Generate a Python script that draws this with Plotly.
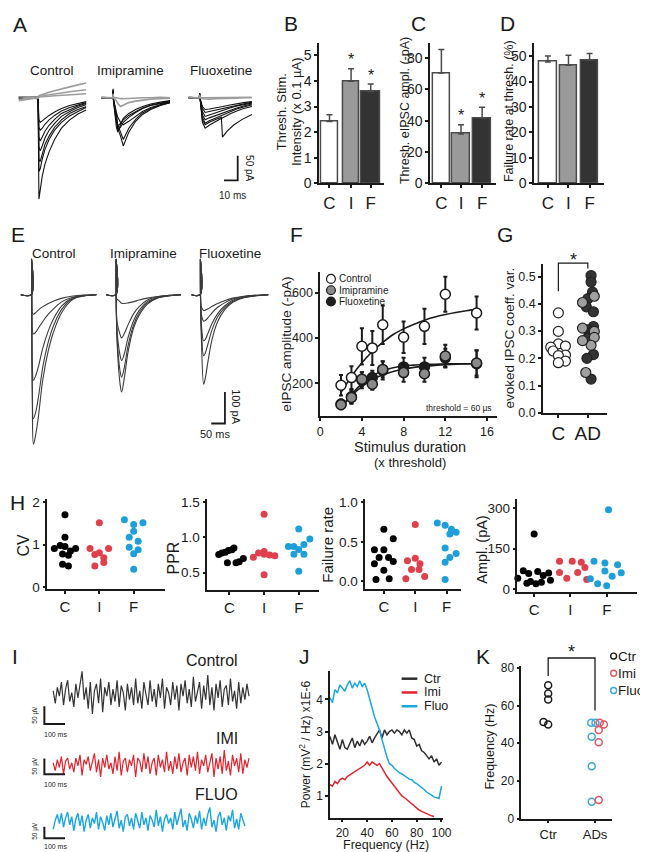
import plotly.graph_objects as go

W, H = 648, 852
FONT = "Liberation Sans, Arial, Helvetica, sans-serif"
INK = "#1a1a1a"
GREY_TR = "#9c9c9c"
RED = "#e3222b"
BLUE = "#1aa6df"
RED_DOT = "#e0404c"
BLUE_DOT = "#1f9fd9"

# ======================= DATA =======================
# ---- A: threshold-evoked sweeps (time ms, current pA) ----
A_CTRL_T = [0, 14, 14.6, 15.5, 17, 19, 22, 26, 31, 37, 43, 49]
A_CTRL_SWEEPS = [
    [2, 0, -206, -190, -160, -135, -110, -85, -62, -45, -33, -25],
    [0, -2, -150, -145, -125, -105, -85, -66, -50, -37, -28, -20],
    [-3, 0, -125, -130, -115, -95, -78, -60, -45, -32, -24, -18],
    [1, -1, -100, -108, -98, -82, -66, -52, -38, -28, -20, -14],
    [0, 2, -80, -88, -80, -68, -56, -44, -32, -24, -17, -12],
    [-2, 0, -60, -66, -62, -54, -45, -36, -27, -20, -15, -10],
    [1, 0, -45, -50, -47, -42, -36, -29, -22, -16, -12, -8],
]
A_CTRL_FAILS = [
    [-4, 2, 4, 5, 6, 8, 11, 14, 18, 22, 26, 30],
    [-6, 0, 2, 3, 3, 5, 6, 8, 10, 12, 14, 16],
    [2, -1, 1, 2, 2, 3, 3, 4, 5, 6, 7, 8],
]
A_IMI_T = [0, 8.4, 8.6, 8.8, 11, 12, 14, 16, 20, 25, 30, 36, 43, 50]
A_IMI_SWEEPS = [
    [0, 0, 18, -5, -60, -70, -55, -42, -32, -24, -18, -13, -9, -6],
    [0, 1, 15, -3, -40, -62, -78, -98, -70, -48, -34, -24, -16, -10],
    [1, 0, 12, -4, -50, -66, -60, -50, -40, -30, -22, -16, -12, -8],
    [0, -1, 16, -2, -35, -55, -70, -85, -62, -44, -31, -22, -15, -10],
    [-1, 0, 14, -3, -45, -58, -52, -45, -36, -28, -21, -15, -11, -7],
    [0, 1, 10, -2, -30, -40, -50, -55, -48, -38, -28, -20, -14, -9],
]
A_IMI_FAILS = [
    [0, 0, 8, 0, -6, -12, -18, -15, -10, -7, -5, -3, -2, -1],
    [1, 0, 5, 1, 0, -1, -2, -2, -1, -1, 0, 0, 1, 0],
]
A_FLUO_T = [0, 7.8, 8, 8.3, 10, 12, 15, 20, 25, 30, 35, 40, 46]
A_FLUO_SWEEPS = [
    [0, 0, 9, -2, -50, -62, -56, -48, -40, -33, -27, -22, -18],
    [1, 0, 8, -3, -40, -52, -47, -41, -34, -28, -23, -19, -15],
    [0, 1, 9, -2, -35, -45, -41, -36, -30, -25, -21, -17, -13],
    [-1, 0, 7, -1, -28, -38, -35, -30, -26, -21, -17, -14, -11],
    [0, 0, 8, -2, -22, -30, -28, -25, -21, -18, -15, -12, -9],
    [1, 0, 8, -1, -18, -24, -23, -21, -18, -15, -12, -10, -8],
]
A_FLUO_LATE_T = [0, 7.8, 8, 8.3, 10, 12, 15, 20, 23.8, 24.6, 28, 33, 39, 46]
A_FLUO_LATE = [0, 0, 9, -1, -45, -55, -50, -44, -40, -80, -68, -55, -44, -34]
A_FLUO_FAILS = [
    [0, 0, 6, 0, -2, -3, -3, -2, -2, -1, -1, 0, 0],
    [1, 0, 4, 1, 0, 0, 1, 0, 0, 1, 0, 0, 1],
]
A_SCALE_MS, A_SCALE_PA = 10, 50

# ---- B, C, D: bar graphs ----
GROUPS = ["C", "I", "F"]
B_MEAN = [2.42, 3.99, 3.58]
B_SEM = [0.26, 0.49, 0.30]
C_MEAN = [70.5, 31.6, 41.7]
C_SEM = [15.0, 5.9, 6.9]
D_MEAN = [47.7, 46.4, 48.3]
D_SEM = [2.3, 3.9, 2.7]
B_SIG = [False, True, True]
C_SIG = [False, True, True]

# ---- E: input-output sweeps (ms, pA) ----
E_CTRL_T = [0, 38, 39, 40, 42, 46, 55, 65, 80, 100, 120, 150, 190, 230, 275]
E_CTRL_SWEEPS = [
    [0, 0, 112, -100, -350, -475, -440, -380, -270, -178, -116, -55, -15, -4, 0],
    [0, 0, 112, -90, -300, -394, -370, -320, -230, -150, -96, -45, -12, -3, 0],
    [0, 0, 112, -80, -230, -272, -255, -225, -170, -115, -75, -35, -10, -3, 0],
    [0, 0, 112, -60, -115, -125, -118, -105, -85, -62, -44, -22, -8, -2, 0],
    [0, 0, 112, -40, -58, -62, -56, -48, -38, -28, -20, -11, -4, -1, 0],
]
E_IMI_T = [0, 35, 36, 37, 40, 50, 56, 65, 80, 100, 120, 150, 190, 230, 272]
E_IMI_SWEEPS = [
    [0, 0, 112, -60, -160, -280, -309, -270, -180, -105, -65, -30, -10, -3, 0],
    [0, 0, 112, -55, -140, -240, -262, -235, -160, -95, -58, -26, -9, -3, 0],
    [0, 0, 112, -50, -120, -190, -209, -190, -135, -82, -50, -22, -8, -2, 0],
    [0, 0, 112, -45, -90, -125, -137, -125, -95, -60, -38, -17, -6, -2, 0],
    [0, 0, 112, -20, -15, -22, -27, -28, -26, -22, -17, -11, -6, -3, 0],
]
E_FLUO_T = [0, 31, 32, 33, 36, 44, 50, 60, 75, 95, 120, 150, 190, 230, 279]
E_FLUO_SWEEPS = [
    [0, 0, 112, -50, -150, -284, -265, -210, -140, -85, -48, -24, -10, -4, 0],
    [0, 0, 112, -45, -120, -194, -185, -155, -110, -70, -42, -21, -9, -3, 0],
    [0, 0, 112, -40, -100, -147, -142, -122, -90, -60, -36, -18, -8, -3, 0],
    [0, 0, 112, -30, -65, -84, -82, -73, -57, -40, -26, -14, -6, -2, 0],
    [0, 0, 112, -20, -40, -50, -49, -45, -37, -28, -19, -11, -5, -2, 0],
]
E_SCALE_MS, E_SCALE_PA = 50, 100

# ---- F: eIPSC amplitude vs stimulus duration ----
F_X = [2, 3, 4, 5, 6, 8, 10, 12, 15]
F_CTRL = [191, 225, 363, 356, 458, 403, 451, 593, 510]
F_CTRL_SEM = [45, 50, 80, 75, 85, 70, 78, 77, 73]
F_IMI = [105, 137, 218, 196, 261, 247, 242, 320, 289]
F_IMI_SEM = [20, 25, 30, 25, 35, 40, 35, 50, 55]
F_FLUO = [108, 140, 213, 225, 257, 272, 272, 312, 286]
F_FLUO_SEM = [20, 30, 35, 30, 40, 40, 40, 40, 60]
FIT_X = [2, 3, 4, 5, 6, 7, 8, 9, 10, 11, 12, 13, 14, 15]
FIT_CTRL = [160, 230, 290, 340, 380, 415, 440, 460, 478, 492, 503, 512, 520, 526]
FIT_IMI = [95, 145, 185, 215, 237, 252, 262, 270, 275, 279, 282, 284, 285, 286]
FIT_FLUO = [90, 150, 198, 232, 255, 268, 276, 280, 283, 284, 285, 286, 286, 286]

# ---- G: evoked IPSC coefficient of variation ----
G_CTRL = [0.367, 0.299, 0.253, 0.245, 0.241, 0.227, 0.212, 0.210, 0.190, 0.184]
G_FLUO = [0.504, 0.48, 0.443, 0.419, 0.389, 0.371, 0.317, 0.305, 0.299, 0.275, 0.214, 0.200, 0.124]
G_IMI = [0.428, 0.405, 0.311, 0.299, 0.277, 0.248, 0.148, 0.265]

# ---- H: per-cell scatter ----
H_CV = {"C": [1.71, 1.18, 0.98, 0.96, 0.91, 0.91, 0.85, 0.78, 0.75, 0.54, 0.50],
        "I": [1.52, 0.91, 0.91, 0.81, 0.77, 0.69, 0.58, 0.50],
        "F": [1.59, 1.52, 1.48, 1.32, 1.18, 1.08, 0.94, 0.88, 0.79, 0.42]}
H_PPR = {"C": [0.757, 0.78, 0.79, 0.813, 0.827, 0.85, 0.64, 0.64, 0.654, 0.70],
         "I": [1.33, 0.80, 0.78, 0.76, 0.75, 0.74, 0.72, 0.47],
         "F": [1.12, 0.98, 0.90, 0.87, 0.87, 0.83, 0.76, 0.76, 0.52]}
H_FAIL = {"C": [0.66, 0.54, 0.40, 0.40, 0.30, 0.30, 0.25, 0.22, 0.14, 0.03, 0.02],
          "I": [0.72, 0.29, 0.26, 0.22, 0.15, 0.15, 0.06, 0.03],
          "F": [0.74, 0.71, 0.66, 0.62, 0.60, 0.42, 0.35, 0.30, 0.24, 0.02]}
H_AMPL = {"C": [205, 68, 65, 60, 58, 50, 40, 33, 28, 25, 22, 20],
          "I": [103, 103, 100, 80, 62, 62, 40, 36],
          "F": [295, 103, 97, 90, 67, 61, 48, 38, 20, 12]}

# ---- I: field potential traces (µV), sampled every 10 ms ----
I_CTRL = [10, -25, 20, -5, 35, -30, 15, 40, -20, 5,
          -35, 30, -10, 25, 65, -15, 20, -40, 35, -55,
          10, 30, -25, 45, -50, 20, -5, 35, -30, 15,
          -20, 40, -35, 25, 5, -45, 30, -15, 20, -30,
          45, -25, 10, -40, 35, 0, -30, 40, -20, 15,
          -35, 30, -10, 45, -40, 20, 5, -30, 35, -15,
          25, -45, 30, -5, 40, -25, 15, -35, 50, -20,
          10, 35, -40, 25, -15, 55, -30, 20, -45, 30,
          -10, 40, -35, 15, 25, -30, 45, -20, 10, -40,
          35, -25, 20, -15, 30, -5]
I_IMI = [5, -20, 15, -10, 25, -30, 10, 20, -15, 5,
         -25, 20, -5, 30, -35, 15, 0, 25, -20, 10,
         35, -25, 15, -40, 20, -10, 30, -15, 5, -30,
         25, -20, 40, -35, 10, 20, -25, 15, -5, 30,
         -40, 20, 10, -25, 35, -15, 25, -30, 5, 20,
         -35, 30, -10, 15, -25, 40, -20, 10, -30, 25,
         -15, 35, -25, 5, 20, -35, 30, -10, 25, -20,
         40, -30, 15, -5, 30, -25, 10, 35, -40, 20,
         -15, 25, -30, 45, -20, 10, -35, 30, -5, 20,
         -25, 35, -30, 15, -10, 20]
I_FLUO = [-30, 10, 35, -5, 40, -20, 20, 45, -10, 25,
          -35, 15, 40, -15, 30, -40, 10, 35, -25, 20,
          -5, 45, -30, 25, 0, -35, 30, -10, 40, -20,
          15, 50, -25, 10, -40, 25, 35, -15, 20, -30,
          40, 5, -25, 45, -10, 20, -35, 30, 10, -20,
          55, -15, 25, -40, 15, 35, -5, 20, -30, 45,
          -10, 25, 60, -20, 10, -35, 40, 15, -25, 30,
          -5, 50, -30, 20, -15, 35, 65, -20, 10, -40,
          25, 45, -10, 20, -35, 30, 5, 55, -25, 15,
          -30, 40, 10, -15]
I_DT_MS = 10
I_SCALE_MS, I_SCALE_UV = 100, 50

# ---- J: power spectra (x1E-6 mV^2/Hz), 2-Hz bins from 10 Hz ----
J_F0, J_DF = 10, 2
J_CTR = [2.85, 2.6, 2.9, 2.7, 2.45, 2.75, 2.5, 2.45, 2.65, 2.8,
         2.5, 2.7, 2.55, 2.75, 2.6, 2.7, 2.85, 2.65, 2.8, 2.95,
         3.05, 2.8, 3.05, 2.9, 3.0, 3.05, 2.95, 3.05, 3.0, 2.9,
         3.05, 2.95, 3.05, 2.8, 2.75, 2.55, 2.6, 2.4, 2.35, 2.25,
         2.15, 2.25, 2.05, 2.15, 1.95, 2.05]
J_IMI = [1.35, 1.3, 1.45, 1.38, 1.5, 1.55, 1.5, 1.6, 1.65, 1.7,
         1.75, 1.8, 1.85, 1.9, 1.95, 2.05, 1.95, 2.05, 2.0, 1.95,
         2.0, 1.85, 1.75, 1.6, 1.5, 1.4, 1.3, 1.2, 1.1, 1.0,
         0.95, 0.88, 0.82, 0.76, 0.7, 0.62, 0.56, 0.52, 0.48, 0.44,
         0.4, 0.38, 0.36]
J_FLUO = [4.05, 3.9, 4.3, 4.2, 4.45, 4.35, 4.25, 4.45, 4.58, 4.35,
          4.5, 4.4, 4.58, 4.4, 4.5, 4.3, 4.0, 3.7, 3.45, 3.25,
          3.05, 2.75, 2.45, 2.2, 2.0, 1.95, 1.85, 1.78, 1.72, 1.68,
          1.62, 1.58, 1.52, 1.5, 1.42, 1.38, 1.32, 1.27, 1.2, 1.12,
          1.08, 1.02, 0.97, 0.95, 0.92, 1.3]

# ---- K: peak frequency ----
K_CTR = [70.8, 66.4, 63.2, 51.2, 49.9]
K_FLUO = [50.8, 50.8, 43.4, 27.7, 8.9]
K_IMI = [50.8, 49.9, 47.0, 40.5, 9.8]

# ======================= LAYOUT (positions / styles) =======================
JIT = {
    "G_CTRL": [0, 0, 0, 0.24, -0.26, -0.18, 0.24, 0, 0.24, 0],
    "G_FLUO": [0.11, 0.11, 0.16, 0.0, -0.05, 0.19, 0.19, 0.0, 0.16, 0.0, 0.19, -0.03, 0.11],
    "G_IMI": [0.22, -0.18, -0.18, 0.22, 0.22, 0.11, -0.07, -0.18],
    "CV": {"C": [0, 0, -0.14, 0, -0.31, 0.31, 0.16, -0.07, 0.1, -0.07, 0.1],
           "I": [0, -0.27, 0.27, 0, -0.13, 0.13, 0.13, -0.13],
           "F": [-0.27, 0.27, 0, 0, -0.13, 0.13, -0.13, 0.13, 0, 0]},
    "PPR": {"C": [-0.31, -0.22, -0.12, -0.03, 0.07, 0.13, -0.06, 0.19, 0.28, 0.4],
            "I": [0, 0, -0.16, 0, 0.16, 0.31, -0.31, 0],
            "F": [0, 0.32, 0.15, -0.3, -0.14, 0, -0.14, 0.15, 0]},
    "FAIL": {"C": [0, 0.3, -0.3, 0, -0.15, 0.15, 0.3, -0.3, 0, 0.17, -0.25],
             "I": [0, 0, -0.25, 0.15, -0.12, 0.12, 0.3, -0.3],
             "F": [-0.3, -0.05, 0.15, 0.3, 0.1, -0.05, 0.3, 0.1, -0.05, -0.05]},
    "AMPL": {"C": [0, -0.3, 0.1, 0.4, -0.15, 0.25, -0.45, 0.45, -0.1, 0.2, -0.2, 0.05],
             "I": [-0.3, 0.05, 0.3, 0.4, -0.3, 0.2, -0.1, 0.45],
             "F": [0.05, -0.35, -0.05, 0.3, -0.05, 0.4, 0.15, -0.45, -0.25, 0.0]},
    "K_CTR": [0, 0, 0, -0.1, 0],
    "K_FLUO": [-0.08, 0.01, -0.07, -0.07, -0.07],
    "K_IMI": [0.1, 0.19, 0.08, 0.08, 0.08],
}

fig = go.Figure()
LAY, ANN, SHP, AX = {}, [], [], {}
_n = [0]


def axes(key, xpx, ypx, xr, yr, visible=True, xo=None, yo=None):
    _n[0] += 1
    s = "" if _n[0] == 1 else str(_n[0])
    common = dict(showgrid=False, zeroline=False, fixedrange=True)
    if visible:
        common.update(showline=True, linecolor=INK, linewidth=1.5, ticks="outside",
                      ticklen=3, tickwidth=1.5, tickcolor=INK,
                      tickfont=dict(family=FONT, size=13, color=INK))
    else:
        common.update(visible=False)
    xa = dict(common)
    xa.update(domain=[xpx[0] / W, xpx[1] / W], range=list(xr), anchor="y" + s)
    ya = dict(common)
    ya.update(domain=[1 - ypx[1] / H, 1 - ypx[0] / H], range=list(yr), anchor="x" + s)
    if xo:
        xa.update(xo)
    if yo:
        ya.update(yo)
    LAY["xaxis" + s] = xa
    LAY["yaxis" + s] = ya
    AX[key] = dict(x="x" + s, y="y" + s, xpx=xpx, ypx=ypx, xr=xr, yr=yr)
    return AX[key]


def to_px(ax, x, y):
    px = ax["xpx"][0] + (x - ax["xr"][0]) / (ax["xr"][1] - ax["xr"][0]) * (ax["xpx"][1] - ax["xpx"][0])
    py = ax["ypx"][1] - (y - ax["yr"][0]) / (ax["yr"][1] - ax["yr"][0]) * (ax["ypx"][1] - ax["ypx"][0])
    return px, py


def txt(px, py, s, size, angle=0, xanchor="center", yanchor="middle", color=INK):
    ANN.append(dict(x=px / W, y=1 - py / H, xref="paper", yref="paper", text=s,
                    showarrow=False, textangle=angle, xanchor=xanchor, yanchor=yanchor,
                    font=dict(family=FONT, size=size, color=color)))


def line(ax, x, y, color, width=1.0, x0=None, dx=None, shape="linear"):
    kw = dict(y=y, xaxis=ax["x"], yaxis=ax["y"], mode="lines",
              line=dict(color=color, width=width, shape=shape),
              hoverinfo="skip", showlegend=False)
    if x is None:
        kw.update(x0=x0, dx=dx)
    else:
        kw.update(x=x)
    fig.add_trace(go.Scatter(**kw))


def ppath(pts, color=INK, width=1.3):
    d = "M " + " L ".join(f"{px / W:.5f},{1 - py / H:.5f}" for px, py in pts)
    SHP.append(dict(type="path", xref="paper", yref="paper", path=d,
                    line=dict(color=color, width=width)))


def pcircle(px, py, r, fill, edge, width=1.2):
    SHP.append(dict(type="circle", xref="paper", yref="paper",
                    x0=(px - r) / W, x1=(px + r) / W, y0=1 - (py + r) / H, y1=1 - (py - r) / H,
                    fillcolor=fill, line=dict(color=edge, width=width)))


def scalebar(ax, corner_x, corner_y, lx, ly, width=1.8):
    line(ax, [corner_x - lx, corner_x, corner_x], [corner_y, corner_y, corner_y + ly], INK, width)


# ---------------- Panel A ----------------
A_YR = (-218, 52)
aA1 = axes("A1", (3, 83), (60, 195), (-3.57, 53.57), A_YR, visible=False)
aA2 = axes("A2", (87, 167), (60, 195), (-3.57, 53.57), A_YR, visible=False)
aA3 = axes("A3", (176, 256), (60, 195), (-3.57, 53.57), A_YR, visible=False)
for sw in A_CTRL_SWEEPS:
    line(aA1, A_CTRL_T, sw, "#111111", 1.1)
for sw in A_CTRL_FAILS:
    line(aA1, A_CTRL_T, sw, GREY_TR, 1.6)
for sw in A_IMI_SWEEPS:
    line(aA2, A_IMI_T, sw, "#111111", 1.1)
for sw in A_IMI_FAILS:
    line(aA2, A_IMI_T, sw, GREY_TR, 1.6)
for sw in A_FLUO_SWEEPS:
    line(aA3, A_FLUO_T, sw, "#111111", 1.1)
line(aA3, A_FLUO_LATE_T, A_FLUO_LATE, "#111111", 1.1)
for sw in A_FLUO_FAILS:
    line(aA3, A_FLUO_T, sw, GREY_TR, 1.6)
scalebar(aA3, 35.7, -168, A_SCALE_MS, A_SCALE_PA)
txt(243, 157, f"{A_SCALE_PA} pA", 10, angle=90)
txt(226, 185, f"{A_SCALE_MS} ms", 10)
txt(42, 58, "Control", 13.5)
txt(122, 58, "Imipramine", 13.5)
txt(214, 58, "Fluoxetine", 13.5)

# ---------------- Panels B, C, D ----------------
BAR_FILL = ["#ffffff", "#9a9a9a", "#333333"]


def bar_panel(key, xpx, ypx, yr, centers, widths, mean, sem, sig, ytv, ytt):
    ax = axes(key, xpx, ypx, (xpx[0], xpx[1]), yr,
              xo=dict(tickvals=centers, ticktext=GROUPS,
                      tickfont=dict(family=FONT, size=17, color=INK)),
              yo=dict(tickvals=ytv, ticktext=ytt, tickfont=dict(family=FONT, size=14, color=INK)))
    fig.add_trace(go.Bar(x=centers, y=mean, width=widths, xaxis=ax["x"], yaxis=ax["y"],
                         marker=dict(color=BAR_FILL, line=dict(color="#4a4a4a", width=1.5)),
                         error_y=dict(type="data", symmetric=False, array=sem, arrayminus=[0] * 3,
                                      color="#4a4a4a", thickness=1.5, width=3),
                         hoverinfo="skip", showlegend=False))
    if sig:
        for c, m, e, s in zip(centers, mean, sem, sig):
            if s:
                px, py = to_px(ax, c, m + e)
                txt(px, py - 9, "*", 16)
    return ax


bar_panel("B", (314, 380), (30, 173), (0, 5.5), [324.5, 346.5, 366.5], [17, 17, 19],
          B_MEAN, B_SEM, B_SIG, [0, 1, 2, 3, 4, 5], ["0", "1", "2", "3", "4", "5"])
bar_panel("C", (427, 494), (30, 173), (0, 90), [438.5, 458.5, 480], [17, 19, 18],
          C_MEAN, C_SEM, C_SIG, [0, 20, 40, 60, 80], ["0", "20", "40", "60", "80"])
bar_panel("D", (533, 604), (30, 173), (0, 55.3), [547, 568, 589.5], [18, 18, 17],
          D_MEAN, D_SEM, None, [0, 10, 20, 30, 40, 50],
          ["0", "10", "20", "30", "40", "50"])
txt(276, 100, "Thresh. Stim.", 13, angle=-90)
txt(291, 100, "Intensity (x 0.1 µA)", 13, angle=-90)
txt(402, 99, "Thresh. eIPSC ampl. (-pA)", 12.5, angle=-90)
txt(508, 100, "Failure rate at thresh. (%)", 12.5, angle=-90)

# ---------------- Panel E ----------------
E_XR, E_YR = (-21.4, 300), (-497, 144)
aE1 = axes("E1", (4, 94), (240, 445), E_XR, E_YR, visible=False)
aE2 = axes("E2", (91, 181), (240, 445), E_XR, E_YR, visible=False)
aE3 = axes("E3", (178, 268), (240, 445), E_XR, E_YR, visible=False)
for sw in E_CTRL_SWEEPS:
    line(aE1, E_CTRL_T, sw, "#3a3a3a", 1.1, shape="spline")
for sw in E_IMI_SWEEPS:
    line(aE2, E_IMI_T, sw, "#3a3a3a", 1.1, shape="spline")
for sw in E_FLUO_SWEEPS:
    line(aE3, E_FLUO_T, sw, "#3a3a3a", 1.1, shape="spline")
scalebar(aE3, 121.4, -409, E_SCALE_MS, E_SCALE_PA)
txt(229, 400, f"{E_SCALE_PA} pA", 11, angle=90)
txt(208, 428, f"{E_SCALE_MS} ms", 11)
txt(44, 244, "Control", 13.5)
txt(135, 244, "Imipramine", 13.5)
txt(223, 244, "Fluoxetine", 13.5)

# ---------------- Panel F ----------------
aF = axes("F", (315, 495), (263, 409), (0, 16.94), (56.5, 691),
          xo=dict(tickvals=[0, 4, 8, 12, 16], tickfont=dict(family=FONT, size=12.5, color=INK)),
          yo=dict(tickvals=[200, 400, 600], tickfont=dict(family=FONT, size=12.5, color=INK)))
for fit in (FIT_CTRL, FIT_IMI, FIT_FLUO):
    line(aF, FIT_X, fit, INK, 1.6, shape="spline")
for vals, sem, fill in ((F_FLUO, F_FLUO_SEM, "#1e1e1e"), (F_IMI, F_IMI_SEM, "#8a8a8a"),
                        (F_CTRL, F_CTRL_SEM, "#ffffff")):
    fig.add_trace(go.Scatter(x=F_X, y=vals, xaxis=aF["x"], yaxis=aF["y"], mode="markers",
                             marker=dict(size=10, color=fill, line=dict(color=INK, width=1.5)),
                             error_y=dict(type="data", array=sem, color=INK, thickness=2, width=2),
                             hoverinfo="skip", showlegend=False))
for i, (lab, fill) in enumerate((("Control", "#ffffff"), ("Imipramine", "#8a8a8a"),
                                 ("Fluoxetine", "#1e1e1e"))):
    yy = 270 + 11.5 * i
    pcircle(326, yy, 4.5, fill, INK)
    txt(332, yy, lab, 10, xanchor="left")
txt(492, 401, "threshold = 60 µs", 8.5, xanchor="right")
txt(281, 336, "eIPSC amplitude (-pA)", 13.5, angle=-90)
txt(407, 441, "Stimulus duration", 14.5)
txt(407, 456, "(x threshold)", 13)

# ---------------- Panel G ----------------
aG = axes("G", (542, 607), (255, 406), (-0.523, 1.643), (0, 0.546),
          xo=dict(tickvals=[0, 1], ticktext=["C", "AD"],
                  tickfont=dict(family=FONT, size=19, color=INK)),
          yo=dict(tickvals=[0, 0.1, 0.2, 0.3, 0.4, 0.5], tickformat=".1f",
                  tickfont=dict(family=FONT, size=12.5, color=INK)))
for vals, jit, cat, fill in ((G_CTRL, JIT["G_CTRL"], 0, "#ffffff"), (G_FLUO, JIT["G_FLUO"], 1, "#333333"),
                             (G_IMI, JIT["G_IMI"], 1, "#a0a0a0")):
    fig.add_trace(go.Scatter(x=[cat + j for j in jit], y=vals, xaxis=aG["x"], yaxis=aG["y"],
                             mode="markers", cliponaxis=False,
                             marker=dict(size=10, color=fill, line=dict(color="#222222", width=1.2)),
                             hoverinfo="skip", showlegend=False))
g0 = to_px(aG, 0, 0.446)
g1 = to_px(aG, 1, 0.53)
gtop = to_px(aG, 0, 0.546)[1] - 1
ppath([g0, (g0[0], gtop), (g1[0], gtop), g1], INK, 1.2)
txt((g0[0] + g1[0]) / 2, gtop - 3, "*", 18)
txt(508, 330, "evoked IPSC coeff. var.", 13.5, angle=-90)

# ---------------- Panel H ----------------
H_COLORS = {"C": "#000000", "I": RED_DOT, "F": BLUE_DOT}


def h_panel(key, xpx, ypx, xr, yr, data, jit, ytv, ytt):
    ax = axes(key, xpx, ypx, xr, yr,
              xo=dict(tickvals=[0, 1, 2], ticktext=GROUPS,
                      tickfont=dict(family=FONT, size=15, color=INK)),
              yo=dict(tickvals=ytv, ticktext=ytt, tickfont=dict(family=FONT, size=13.5, color=INK)))
    for i, g in enumerate(GROUPS):
        fig.add_trace(go.Scatter(x=[i + j for j in jit[g]], y=data[g], xaxis=ax["x"], yaxis=ax["y"],
                                 mode="markers", cliponaxis=False,
                                 marker=dict(size=7, color=H_COLORS[g]),
                                 hoverinfo="skip", showlegend=False))
    return ax


h_panel("H1", (37, 157), (494, 585), (-0.514, 2.914), (-0.047, 2.07), H_CV, JIT["CV"],
        [0, 1, 2], ["0", "1", "2"])
h_panel("H2", (200, 314), (494, 586), (-0.64, 2.59), (0.251, 1.542), H_PPR, JIT["PPR"],
        [0.5, 1.0, 1.5], ["0.5", "1.0", "1.5"])
h_panel("H3", (361, 458), (494, 585), (-0.59, 2.44), (-0.1, 1.0375), H_FAIL, JIT["FAIL"],
        [0, 0.5, 1.0], ["0.0", "0.5", "1.0"])
h_panel("H4", (516, 638), (494, 588), (-0.46, 2.84), (-11, 333), H_AMPL, JIT["AMPL"],
        [0, 150, 300], ["0", "150", "300"])
txt(13, 540, "CV", 16, angle=-90)
txt(166, 553, "PPR", 16, angle=-90)
txt(323, 540, "Failure rate", 15, angle=-90)
txt(480, 545, "Ampl. (pA)", 14.5, angle=-90)

# ---------------- Panel I ----------------
I_XR = (-61.9, 985.7)
aI1 = axes("I1", (30, 250), (662, 728), I_XR, (-100, 83.3), visible=False)
aI2 = axes("I2", (30, 250), (742, 782), I_XR, (-59.4, 65.6), visible=False)
aI3 = axes("I3", (30, 250), (798, 846), I_XR, (-102.6, 102.6), visible=False)
line(aI1, None, I_CTRL, "#333333", 1.2, x0=0, dx=I_DT_MS)
line(aI2, None, I_IMI, RED, 1.2, x0=0, dx=I_DT_MS)
line(aI3, None, I_FLUO, BLUE, 1.4, x0=0, dx=I_DT_MS)
for ax, cy in ((aI1, -83.3), (aI2, -31.25), (aI3, -68.4)):
    line(ax, [-42.9, -42.9, -42.9 + I_SCALE_MS], [cy + I_SCALE_UV, cy, cy], INK, 2)
for py_uv, py_ms in ((713, 733), (765, 783), (831, 846)):
    txt(25, py_uv, f"{I_SCALE_UV} µV", 6.5, angle=-90)
    txt(45, py_ms, f"{I_SCALE_MS} ms", 7)
txt(233, 658, "Control", 16, xanchor="right")
txt(233, 737, "IMI", 16, xanchor="right")
txt(233, 794, "FLUO", 16, xanchor="right")

# ---------------- Panel J ----------------
aJ = axes("J", (325, 440), (668, 817), (10, 101.1), (0.327, 4.887),
          xo=dict(tickvals=[20, 40, 60, 80, 100],
                  tickfont=dict(family=FONT, size=12, color=INK)),
          yo=dict(tickvals=[1, 2, 3, 4], tickfont=dict(family=FONT, size=12, color=INK)))
line(aJ, None, J_CTR, "#2e2e2e", 1.5, x0=J_F0, dx=J_DF)
line(aJ, None, J_IMI, RED, 1.5, x0=J_F0, dx=J_DF)
line(aJ, None, J_FLUO, BLUE, 1.5, x0=J_F0, dx=J_DF)
for i, (lab, col) in enumerate((("Ctr", "#2e2e2e"), ("Imi", RED), ("Fluo", BLUE))):
    yy = 676 + 14 * i
    ppath([(398, yy), (414, yy)], col, 2.5)
    txt(419, yy, lab, 12.5, xanchor="left")
txt(299, 742, "Power (mV<sup>2</sup> / Hz) x1E-6", 12, angle=-90)
txt(382, 845, "Frequency (Hz)", 12.5)

# ---------------- Panel K ----------------
aK = axes("K", (520, 612), (663, 818), (-0.572, 1.356), (0, 81.05),
          xo=dict(tickvals=[0, 1], ticktext=["Ctr", "ADs"],
                  tickfont=dict(family=FONT, size=13, color=INK)),
          yo=dict(tickvals=[0, 20, 40, 60, 80],
                  tickfont=dict(family=FONT, size=12, color=INK)))
K_RED, K_BLUE = "#e05560", "#3aa6d6"
for vals, jit, cat, col in ((K_CTR, JIT["K_CTR"], 0, INK), (K_FLUO, JIT["K_FLUO"], 1, K_BLUE),
                            (K_IMI, JIT["K_IMI"], 1, K_RED)):
    fig.add_trace(go.Scatter(x=[cat + j for j in jit], y=vals, xaxis=aK["x"], yaxis=aK["y"],
                             mode="markers", cliponaxis=False,
                             marker=dict(size=7, symbol="circle-open", color=col, line=dict(width=1.5)),
                             hoverinfo="skip", showlegend=False))
k0 = to_px(aK, 0, 75.7)
k1 = to_px(aK, 1, 57.4)
ktop = 655
ppath([k0, (k0[0], ktop), (k1[0], ktop), k1], INK, 1.3)
txt((k0[0] + k1[0]) / 2, ktop - 6, "*", 18)
for i, (lab, col) in enumerate((("Ctr", INK), ("Imi", K_RED), ("Fluo", K_BLUE))):
    yy = 653 + 17.5 * i
    pcircle(614, yy, 3, "rgba(0,0,0,0)", col, 1.4)
    txt(616.5, yy, lab, 13.5, xanchor="left")
txt(488, 745, "Frequency (Hz)", 12.5, angle=-90)

# ---------------- Panel letters ----------------
for lab, px, py in (("A", 9, 12), ("B", 285, 11), ("C", 415, 11), ("D", 506, 11), ("E", 7, 225),
                    ("F", 291, 225), ("G", 503, 225), ("H", 7, 497), ("I", 4, 653),
                    ("J", 299, 653), ("K", 481, 653)):
    txt(px, py, lab, 21)

fig.update_layout(width=W, height=H, margin=dict(l=0, r=0, t=0, b=0),
                  paper_bgcolor="white", plot_bgcolor="rgba(0,0,0,0)",
                  showlegend=False, annotations=ANN, shapes=SHP,
                  font=dict(family=FONT, color=INK), bargap=0, **LAY)
fig.write_html("out.html")
